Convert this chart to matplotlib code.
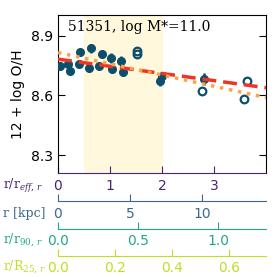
import numpy as np
import matplotlib
matplotlib.use("Agg")
import matplotlib.pyplot as plt

# radial profile of 12 + log O/H, x in r/r_eff
x_filled = [0.03, 0.20, 0.23, 0.40, 0.42, 0.60, 0.63, 0.79, 0.84, 1.01, 1.04, 1.22, 1.25, 1.97, 2.00, 2.81]
y_filled = [8.750, 8.758, 8.724, 8.760, 8.818, 8.736, 8.838, 8.746, 8.808, 8.788, 8.733, 8.774, 8.716, 8.674, 8.699, 8.682]
err_filled = [0.012, 0.015, 0.015, 0.010, 0.018, 0.010, 0.022, 0.015, 0.020, 0.025, 0.020, 0.025, 0.020, 0.025, 0.020, 0.030]

x_open = [1.51, 1.51, 2.76, 3.57, 3.63]
y_open = [8.826, 8.810, 8.625, 8.583, 8.674]

# linear fits (value at r=0, slope per r_eff)
fit_dashed = (8.783, -0.036)
fit_dotted = (8.816, -0.0565)

# scale conversions for the extra axes (value at x = 4 r_eff)
reff_max = 4.0
kpc_max = 14.44
r90_max = 1.30
r25_max = 0.73

kpc_ticks = [0, 5, 10]
r90_ticks = [0.0, 0.5, 1.0]
r25_ticks = [0.0, 0.2, 0.4, 0.6]

c_reff = "#482475"
c_kpc = "#3b6890"
c_r90 = "#22a884"
c_r25 = "#bddf26"
c_pts = "#0b4f6c"

matplotlib.rcParams["mathtext.fontset"] = "dejavuserif"

W = 277.0
fig = plt.figure(figsize=(2.77, 2.77), dpi=100)
ax = fig.add_axes([58 / W, 1 - 173 / W, 208 / W, 158 / W])

ax.axvspan(0.5, 2.0, color="#fff8dc", zorder=0)
ax.errorbar(x_filled, y_filled, yerr=err_filled, fmt="o", color=c_pts, ms=5.5, elinewidth=1.8, capsize=0, zorder=3)
ax.plot(x_open, y_open, "o", mfc="none", mec=c_pts, mew=1.6, ms=5.5, zorder=3)

xx = np.array([0, reff_max])
ax.plot(xx, fit_dashed[0] + fit_dashed[1] * xx, "--", color="#ee3524", lw=2.5, dashes=(4, 2), zorder=4)
ax.plot(xx, fit_dotted[0] + fit_dotted[1] * xx, ":", color="#f9a44a", lw=2.5, zorder=4)

ax.set_xlim(0, reff_max)
ax.set_ylim(8.21, 9.005)
ax.set_yticks([8.3, 8.6, 8.9])
ax.set_xticks([0, 1, 2, 3])
ax.tick_params(axis="y", direction="in", right=True, length=5, labelsize=10)
ax.tick_params(axis="x", direction="in", length=5, colors=c_reff, labelsize=10, pad=4)
ax.spines["bottom"].set_color(c_reff)
ax.set_ylabel("12 + log O/H", fontsize=10)
ax.text(0.05, 0.97, "51351, log M*=11.0", transform=ax.transAxes, family="DejaVu Serif",
        fontsize=10, va="top", ha="left")


def extra_axis(ypix, vmax, ticks, color):
    a = fig.add_axes([58 / W, 1 - ypix / W, 208 / W, 0.0001])
    a.set_xlim(0, vmax)
    a.set_xticks(ticks)
    a.set_yticks([])
    for s in ["top", "left", "right"]:
        a.spines[s].set_visible(False)
    a.spines["bottom"].set_color(color)
    a.patch.set_visible(False)
    a.tick_params(axis="x", direction="in", length=5, colors=color, labelsize=10, pad=4)
    return a


extra_axis(201, kpc_max, kpc_ticks, c_kpc)
extra_axis(228.5, r90_max, r90_ticks, c_r90)
extra_axis(255.5, r25_max, r25_ticks, c_r25)

lab_kw = dict(family="DejaVu Serif", fontsize=9, ha="left", va="center")
fig.text(3 / W, 1 - 186 / W, r"r/r$_{eff,\,r}$", color=c_reff, **lab_kw)
fig.text(3 / W, 1 - 213 / W, "r [kpc]", color=c_kpc, **lab_kw)
fig.text(3 / W, 1 - 240 / W, r"r/r$_{90,\,r}$", color=c_r90, **lab_kw)
fig.text(3 / W, 1 - 267 / W, r"r/R$_{25,\,r}$", color=c_r25, **lab_kw)

fig.savefig("out.png", dpi=100)
